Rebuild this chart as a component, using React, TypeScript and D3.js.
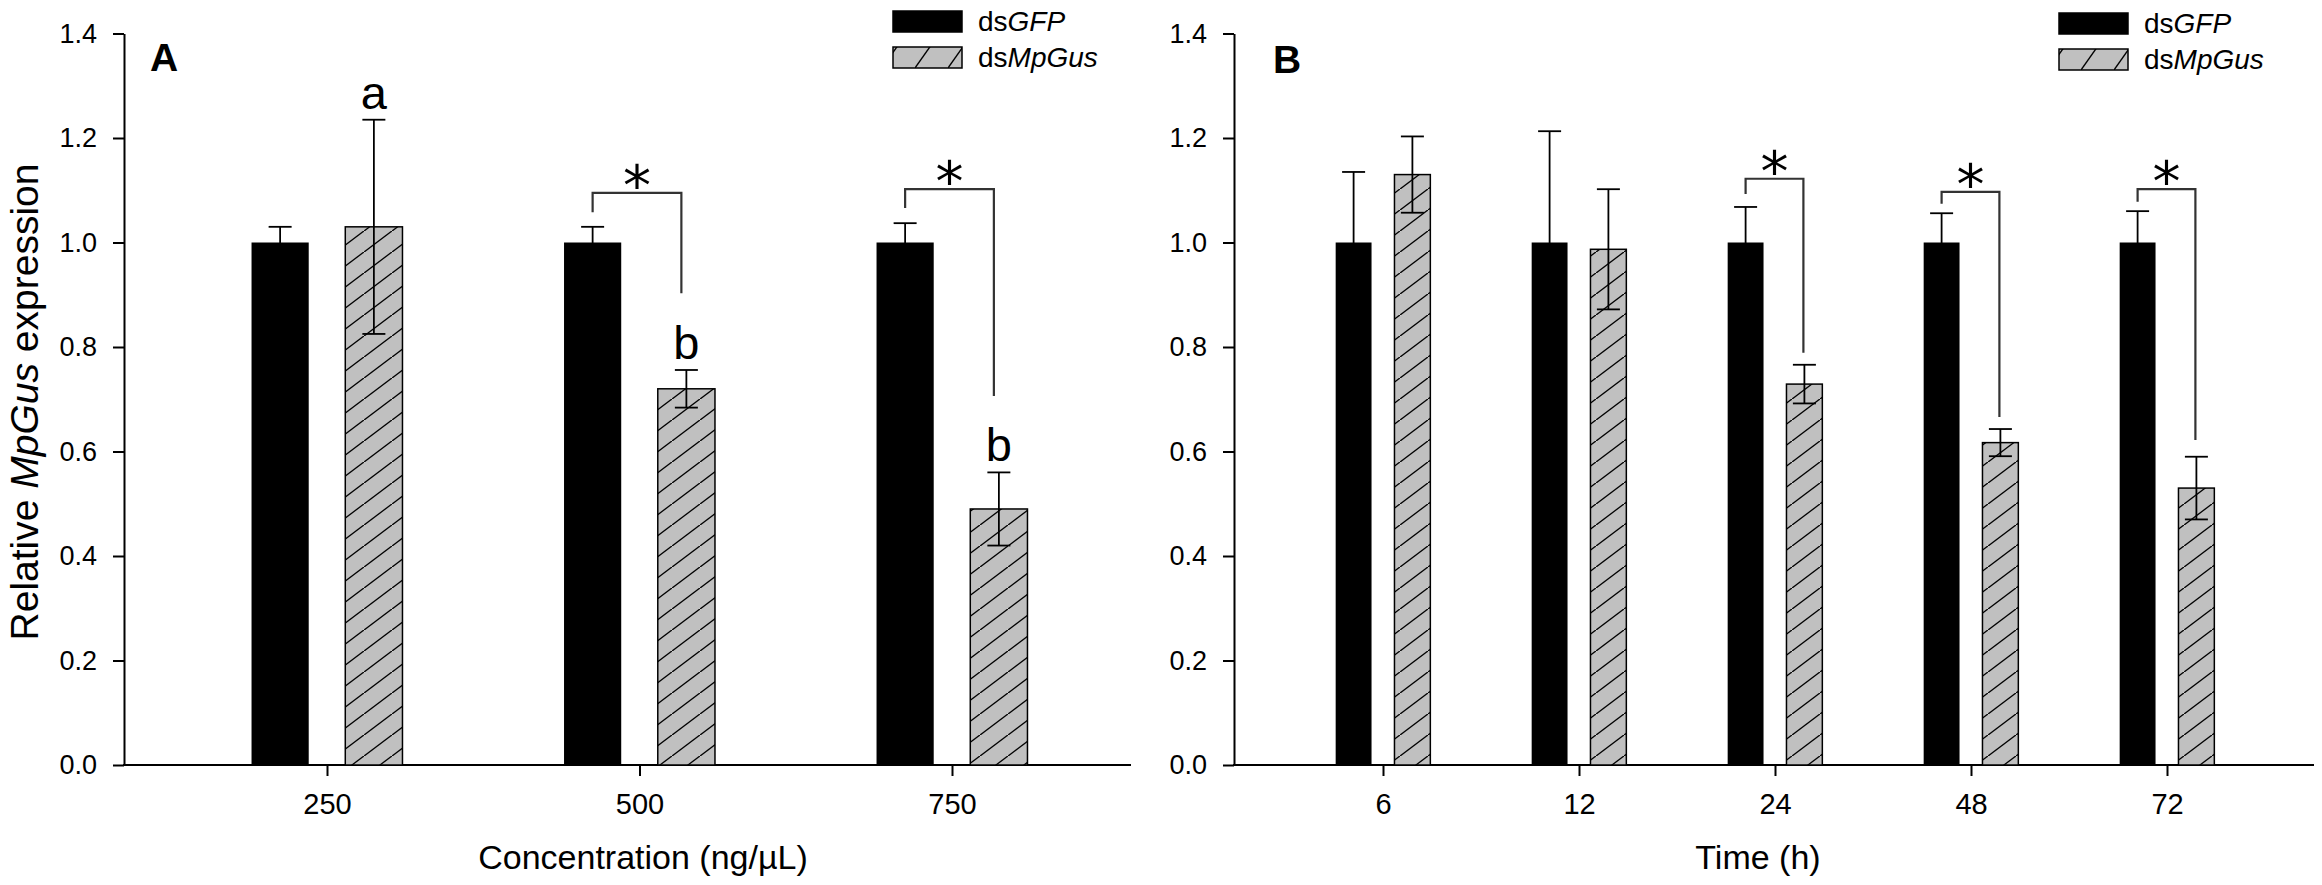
import { useEffect, useRef } from 'react';
import * as d3 from 'd3';

// Panel A: dose response
const concentrations = ['250', '500', '750'];
const gfpConc = [1.0, 1.0, 1.0];
const gfpConcErr = [0.03, 0.03, 0.037];
const gusConc = [1.03, 0.72, 0.49];
const gusConcErr = [0.205, 0.036, 0.07];
const concLetters = ['a', 'b', 'b'];
const concBrackets = [
    { cat: '500', top: 1.095, left: 1.058, right: 0.903 },
    { cat: '750', top: 1.102, left: 1.066, right: 0.706 },
];

// Panel B: time course
const times = ['6', '12', '24', '48', '72'];
const gfpTime = [1.0, 1.0, 1.0, 1.0, 1.0];
const gfpTimeErr = [0.135, 0.213, 0.068, 0.056, 0.06];
const gusTime = [1.13, 0.987, 0.729, 0.617, 0.53];
const gusTimeErr = [0.073, 0.115, 0.037, 0.026, 0.06];
const timeBrackets = [
    { cat: '24', top: 1.122, left: 1.093, right: 0.789 },
    { cat: '48', top: 1.097, left: 1.074, right: 0.666 },
    { cat: '72', top: 1.102, left: 1.078, right: 0.622 },
];

const yTicks = [0, 0.2, 0.4, 0.6, 0.8, 1.0, 1.2, 1.4];

const FONT = "'Liberation Sans', Arial, Helvetica, sans-serif";

const panels = [
    {
        label: 'A', labelX: 150, labelY: 71,
        axisLeft: 124, axisRight: 1131, first: 327, last: 952,
        cats: concentrations, gfp: gfpConc, gfpErr: gfpConcErr, gus: gusConc, gusErr: gusConcErr,
        letters: concLetters, brackets: concBrackets, bracketShift: -5,
        title: 'Concentration (ng/µL)', titleX: 643, legendX: 893, legendY: 11,
    },
    {
        label: 'B', labelX: 1273, labelY: 73,
        axisLeft: 1234, axisRight: 2314, first: 1383, last: 2167,
        cats: times, gfp: gfpTime, gfpErr: gfpTimeErr, gus: gusTime, gusErr: gusTimeErr,
        letters: null, brackets: timeBrackets, bracketShift: -1,
        title: 'Time (h)', titleX: 1758, legendX: 2059, legendY: 13,
    },
];

export default function App() {
    const svgRef = useRef<SVGSVGElement>(null);

    useEffect(() => {
        if (!svgRef.current) return;
        const svg = d3.select(svgRef.current);
        svg.selectAll('*').remove();

        const y = d3.scaleLinear().domain([0, 1.4]).range([765, 33.5]);
        const defs = svg.append('defs');

        // hatch used inside the bars
        const hatch = defs.append('pattern')
            .attr('id', 'hatch')
            .attr('patternUnits', 'userSpaceOnUse')
            .attr('width', 28)
            .attr('height', 21);
        hatch.append('rect').attr('width', 28).attr('height', 21).attr('fill', '#c0c0c0');
        hatch.append('path')
            .attr('d', 'M-2,22.5L30,-1.5')
            .attr('stroke', '#000')
            .attr('stroke-width', 1.4);

        panels.forEach((p) => {
            const g = svg.append('g');
            const x = d3.scalePoint<string>().domain(p.cats).range([p.first, p.last]);
            const step = x.step();
            const off = step * 0.15;
            const bw = step * 0.183;

            // y axis
            const ya = g.append('g')
                .attr('transform', `translate(${p.axisLeft},0)`)
                .call(
                    d3.axisLeft(y)
                        .tickValues(yTicks)
                        .tickSize(11)
                        .tickSizeOuter(0)
                        .tickPadding(16)
                        .tickFormat(d3.format('.1f'))
                );
            ya.select('.domain').attr('stroke', '#000').attr('stroke-width', 2);
            ya.selectAll('.tick line').attr('stroke', '#000').attr('stroke-width', 2);
            ya.selectAll('.tick text')
                .attr('font-family', FONT)
                .attr('font-size', 27)
                .attr('fill', '#000');

            // x axis
            const xa = g.append('g')
                .attr('transform', `translate(0,${y(0)})`)
                .call(d3.axisBottom(x).tickSize(11).tickSizeOuter(0).tickPadding(17));
            xa.select('.domain').remove();
            xa.selectAll('.tick line').attr('stroke', '#000').attr('stroke-width', 2);
            xa.selectAll('.tick text')
                .attr('font-family', FONT)
                .attr('font-size', 29)
                .attr('fill', '#000');
            g.append('line')
                .attr('x1', p.axisLeft - 1)
                .attr('x2', p.axisRight)
                .attr('y1', y(0))
                .attr('y2', y(0))
                .attr('stroke', '#000')
                .attr('stroke-width', 2);

            // bars
            g.selectAll('.gfp')
                .data(p.cats)
                .enter()
                .append('rect')
                .attr('x', (d) => (x(d) as number) - off - bw / 2)
                .attr('y', (_, i) => y(p.gfp[i]))
                .attr('width', bw)
                .attr('height', (_, i) => y(0) - y(p.gfp[i]))
                .attr('fill', '#000');

            g.selectAll('.gus')
                .data(p.cats)
                .enter()
                .append('rect')
                .attr('x', (d) => (x(d) as number) + off - bw / 2)
                .attr('y', (_, i) => y(p.gus[i]))
                .attr('width', bw)
                .attr('height', (_, i) => y(0) - y(p.gus[i]))
                .attr('fill', 'url(#hatch)')
                .attr('stroke', '#000')
                .attr('stroke-width', 1.5);

            // error bars
            const errBar = (cx: number, v: number, e: number) => {
                const eg = g.append('g').attr('stroke', '#000').attr('stroke-width', 1.8);
                eg.append('line').attr('x1', cx).attr('x2', cx).attr('y1', y(v - e)).attr('y2', y(v + e));
                [v - e, v + e].forEach((t) => {
                    eg.append('line')
                        .attr('x1', cx - 11.5)
                        .attr('x2', cx + 11.5)
                        .attr('y1', y(t))
                        .attr('y2', y(t));
                });
            };
            p.cats.forEach((c, i) => {
                errBar((x(c) as number) - off, p.gfp[i], p.gfpErr[i]);
                errBar((x(c) as number) + off, p.gus[i], p.gusErr[i]);
            });

            // letters above the hatched bars
            if (p.letters) {
                g.selectAll('.letter')
                    .data(p.cats)
                    .enter()
                    .append('text')
                    .attr('x', (d) => (x(d) as number) + off)
                    .attr('y', (_, i) => y(p.gus[i] + p.gusErr[i]) - 11)
                    .attr('text-anchor', 'middle')
                    .attr('font-family', FONT)
                    .attr('font-size', 47)
                    .text((_, i) => p.letters![i]);
            }

            // significance brackets
            p.brackets.forEach((b) => {
                const xl = (x(b.cat) as number) - off;
                const xr = (x(b.cat) as number) + off + p.bracketShift;
                g.append('path')
                    .attr('d', `M${xl},${y(b.left)}V${y(b.top)}H${xr}V${y(b.right)}`)
                    .attr('fill', 'none')
                    .attr('stroke', '#333')
                    .attr('stroke-width', 2.2);
                g.append('text')
                    .attr('x', (xl + xr) / 2)
                    .attr('y', y(b.top) + 12)
                    .attr('text-anchor', 'middle')
                    .attr('font-family', "'DejaVu Sans', sans-serif")
                    .attr('font-size', 56)
                    .text('*');
            });

            // panel label
            g.append('text')
                .attr('x', p.labelX)
                .attr('y', p.labelY)
                .attr('font-family', FONT)
                .attr('font-weight', 'bold')
                .attr('font-size', 39)
                .text(p.label);

            // x title
            g.append('text')
                .attr('x', p.titleX)
                .attr('y', 869)
                .attr('text-anchor', 'middle')
                .attr('font-family', FONT)
                .attr('font-size', 34)
                .text(p.title);

            // legend
            const lp = defs.append('pattern')
                .attr('id', `lhatch-${p.label}`)
                .attr('patternUnits', 'userSpaceOnUse')
                .attr('x', p.legendX + 22)
                .attr('y', p.legendY + 36)
                .attr('width', 33)
                .attr('height', 21);
            lp.append('rect').attr('width', 33).attr('height', 21).attr('fill', '#c0c0c0');
            lp.append('path').attr('d', 'M-1,22.4L15.8,-1.4').attr('stroke', '#000').attr('stroke-width', 1.4);

            const legend = [
                { name: 'GFP', fill: '#000' },
                { name: 'MpGus', fill: `url(#lhatch-${p.label})` },
            ];
            legend.forEach((l, i) => {
                const ly = p.legendY + i * 36;
                g.append('rect')
                    .attr('x', p.legendX)
                    .attr('y', ly)
                    .attr('width', 69)
                    .attr('height', 21)
                    .attr('fill', l.fill)
                    .attr('stroke', '#000')
                    .attr('stroke-width', 1.5);
                const t = g.append('text')
                    .attr('x', p.legendX + 85)
                    .attr('y', ly + 20)
                    .attr('font-family', FONT)
                    .attr('font-size', 28);
                t.append('tspan').text('ds');
                t.append('tspan').attr('font-style', 'italic').text(l.name);
            });
        });

        // y title
        const yt = svg.append('text')
            .attr('transform', 'translate(38,402) rotate(-90)')
            .attr('text-anchor', 'middle')
            .attr('font-family', FONT)
            .attr('font-size', 39);
        yt.append('tspan').text('Relative ');
        yt.append('tspan').attr('font-style', 'italic').text('MpGus');
        yt.append('tspan').text(' expression');
    }, []);

    return (
        <svg
            ref={svgRef}
            width={2322}
            height={885}
            style={{ position: 'absolute', left: 0, top: 0, background: '#fff' }}
        />
    );
}
